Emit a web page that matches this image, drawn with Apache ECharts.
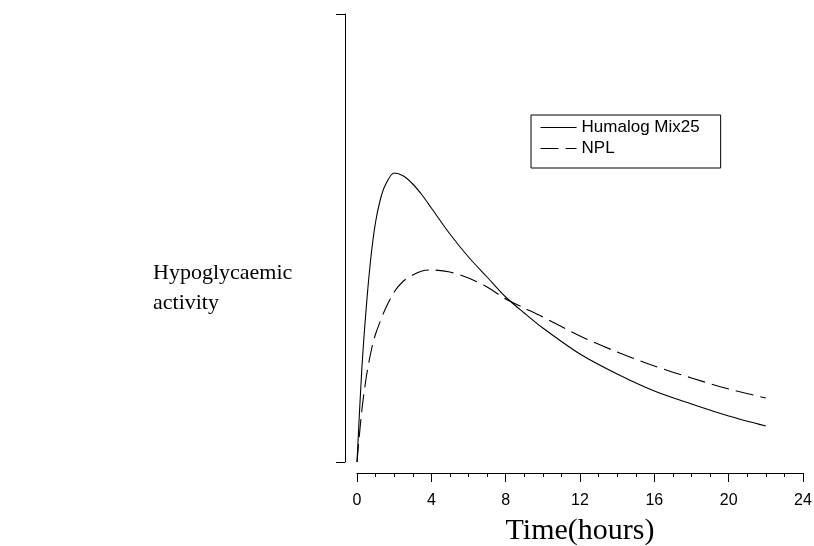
<!DOCTYPE html>
<html>
<head>
<meta charset="utf-8">
<script src="https://cdn.jsdelivr.net/npm/echarts@6/dist/echarts.min.js"></script>
<style>
html,body{margin:0;padding:0;background:#fff;}
#c{width:814px;height:546px;}
</style>
</head>
<body>
<div id="c"></div>
<script>
// Time (hours) and hypoglycaemic activity (arbitrary units)
const humalogT = [0, 0.25, 0.5, 0.75, 1, 1.25, 1.5, 2, 2.5, 3, 3.5, 4, 5, 6, 7, 8, 9, 10, 12, 14, 16, 18, 20, 22];
const humalogV = [0, 90, 155, 205, 240, 262, 276, 289, 286, 278, 267, 254, 228, 205, 185, 165, 149, 134, 108, 88, 71, 58, 46, 36];
const nplT = [0, 0.25, 0.5, 0.75, 1, 1.5, 2, 2.5, 3, 3.5, 4, 5, 6, 7, 8, 9, 10, 12, 14, 16, 18, 20, 22];
const nplV = [0, 50, 85, 110, 128, 152, 170, 181, 187, 191, 192, 190, 184, 175, 163, 154, 145, 126, 110, 96, 84, 73, 64];
const xTicks = [0, 4, 8, 12, 16, 20, 24];
const seriesNames = ['Humalog Mix25', 'NPL'];
const yMax = 448;

const pair = (t, v) => t.map((x, i) => [x, v[i]]);

const chart = echarts.init(document.getElementById('c'), null, {renderer: 'canvas'});
chart.setOption({
  animation: false,
  backgroundColor: '#fff',
  title: {
    text: 'Hypoglycaemic\nactivity',
    left: 153, top: 258, padding: 0,
    textStyle: {fontFamily: 'Liberation Serif', fontSize: 22, fontWeight: 'normal', color: '#000', lineHeight: 30}
  },
  legend: {
    data: seriesNames,
    orient: 'vertical',
    left: 531, top: 115,
    padding: [4, 21, 11, 9],
    itemGap: 4,
    itemWidth: 36, itemHeight: 12,
    borderColor: '#000', borderWidth: 1,
    itemStyle: {opacity: 0},
    lineStyle: {width: 1.1},
    textStyle: {fontFamily: 'Liberation Sans', fontSize: 17, color: '#000'}
  },
  grid: {left: 357, right: 11, top: 14, bottom: 84, containLabel: false, outerBoundsMode: 'none'},
  xAxis: {
    type: 'value', min: 0, max: 24, interval: 4, offset: 11,
    name: 'Time(hours)', nameLocation: 'middle', nameGap: 43,
    nameTextStyle: {fontFamily: 'Liberation Serif', fontSize: 30, color: '#000'},
    axisLine: {show: true, onZero: false, lineStyle: {color: '#000', width: 1}},
    axisTick: {show: true, length: 9, lineStyle: {color: '#000'}},
    minorTick: {show: true, splitNumber: 4, length: 4, lineStyle: {color: '#000'}},
    axisLabel: {fontFamily: 'Liberation Sans', fontSize: 16, color: '#000', margin: 20,
      formatter: v => xTicks.includes(v) ? String(v) : ''},
    splitLine: {show: false}
  },
  yAxis: {
    type: 'value', min: 0, max: yMax, interval: yMax, offset: 12,
    axisLine: {show: true, onZero: false, lineStyle: {color: '#000', width: 1}},
    axisTick: {show: true, length: 9, lineStyle: {color: '#000'}},
    axisLabel: {show: false},
    splitLine: {show: false}
  },
  series: [
    {name: seriesNames[0], type: 'line', data: pair(humalogT, humalogV), showSymbol: false, symbol: 'none',
     smooth: 0.3, lineStyle: {color: '#000', width: 1.1, type: 'solid'}, itemStyle: {color: '#000'}},
    {name: seriesNames[1], type: 'line', data: pair(nplT, nplV), showSymbol: false, symbol: 'none',
     smooth: 0.3, lineStyle: {color: '#000', width: 1.1, type: [18, 7]}, itemStyle: {color: '#000'}}
  ]
});
</script>
</body>
</html>
